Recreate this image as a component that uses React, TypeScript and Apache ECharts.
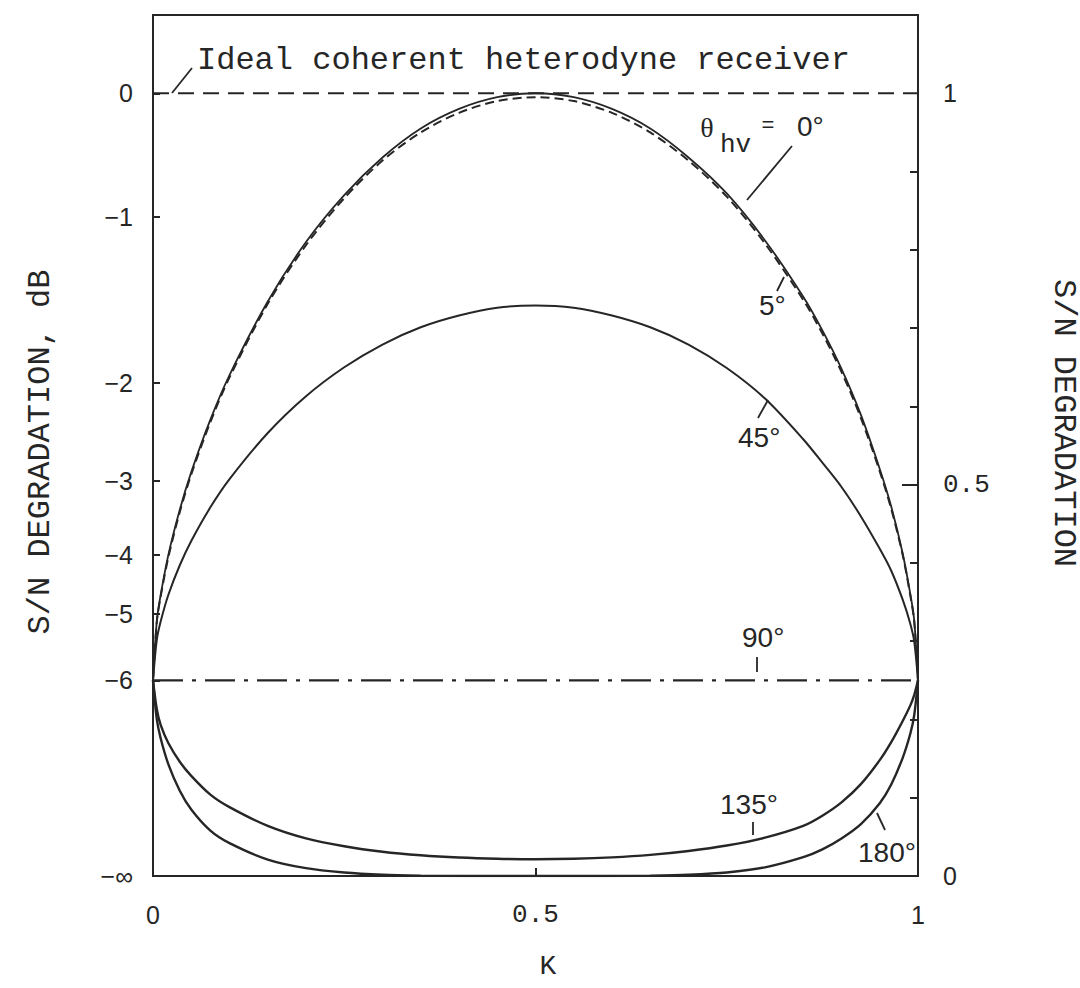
import React, { useEffect, useRef } from "react";
import * as echarts from "echarts";

// Coupling ratio K (x axis)
const kValues = [
  0, 0.005, 0.01, 0.02, 0.035, 0.05, 0.075, 0.1, 0.15, 0.2, 0.25, 0.3, 0.35, 0.4, 0.45, 0.5,
  0.55, 0.6, 0.65, 0.7, 0.75, 0.8, 0.85, 0.875, 0.9, 0.925, 0.95, 0.965, 0.98, 0.99, 0.995, 1,
];

// S/N degradation (linear ratio) for each polarization angle θhv
const theta0 = [
  0.25, 0.326, 0.359, 0.41, 0.468, 0.516, 0.583, 0.64, 0.734, 0.81, 0.87, 0.918, 0.955, 0.98, 0.995, 1.0,
  0.995, 0.98, 0.955, 0.918, 0.872, 0.812, 0.74, 0.697, 0.648, 0.59, 0.52, 0.472, 0.412, 0.36, 0.327, 0.25,
];
const theta5 = [
  0.25, 0.325, 0.357, 0.407, 0.465, 0.513, 0.58, 0.637, 0.731, 0.806, 0.866, 0.914, 0.95, 0.975, 0.99, 0.995,
  0.99, 0.975, 0.95, 0.914, 0.868, 0.808, 0.736, 0.693, 0.644, 0.586, 0.517, 0.469, 0.41, 0.358, 0.326, 0.25,
];
const theta45 = [
  0.25, 0.302, 0.325, 0.359, 0.397, 0.428, 0.471, 0.507, 0.566, 0.613, 0.65, 0.679, 0.701, 0.716, 0.726, 0.729,
  0.726, 0.716, 0.701, 0.679, 0.649, 0.61, 0.558, 0.528, 0.497, 0.46, 0.418, 0.39, 0.353, 0.322, 0.3, 0.25,
];
const theta90 = [0.25, 0.25];
const theta90K = [0, 1];
const theta135 = [
  0.25, 0.213, 0.193, 0.17, 0.146, 0.128, 0.104, 0.088, 0.064, 0.048, 0.038, 0.031, 0.0265, 0.0236, 0.022, 0.0214,
  0.022, 0.0238, 0.027, 0.032, 0.039, 0.049, 0.064, 0.077, 0.094, 0.117, 0.148, 0.171, 0.198, 0.218, 0.231, 0.25,
];
const theta180 = [
  0.25, 0.2, 0.176, 0.143, 0.109, 0.085, 0.058, 0.042, 0.021, 0.01, 0.0045, 0.0017, 0.0005, 0, 0, 0,
  0, 0, 0.0005, 0.0017, 0.0045, 0.011, 0.024, 0.034, 0.048, 0.066, 0.093, 0.117, 0.151, 0.182, 0.205, 0.25,
];
const idealRatio = [1, 1];
const idealK = [0, 1];

// Axis ticks and labels
const kTicks = [0, 0.5, 1];
const kTickLabels = ["0", "0.5", "1"];
const dbTickRatios = [1, 0.842, 0.63, 0.505, 0.41, 0.335, 0.25, 0];
const dbTickLabels = ["0", "\u22121", "\u22122", "\u22123", "\u22124", "\u22125", "\u22126", "\u2212\u221e"];
const ratioMinorTicks = [0.1, 0.2, 0.3, 0.4, 0.6, 0.7, 0.8, 0.9];
const ratioMajorTicks = [0.5];
const ratioLabelValues = [0, 0.5, 1];
const ratioLabels = ["0", "0.5", "1"];

const INK = "#262626";
const MONO = "'Liberation Mono', 'DejaVu Sans Mono', monospace";
const SANS = "'Liberation Sans', Arial, sans-serif";
const SERIF = "'Liberation Serif', serif";

const pairs = (xs: number[], ys: number[]) => xs.map((x, i) => [x, ys[i]]);
const lookup = (values: number[], labels: string[]) => (v: number) => {
  const i = values.findIndex((t) => Math.abs(t - v) < 1e-6);
  return i >= 0 ? labels[i] : "";
};

const curve = (name: string, ys: number[], width: number, type: any = "solid") => ({
  name,
  type: "line",
  data: pairs(kValues, ys),
  showSymbol: false,
  smooth: 0.3,
  lineStyle: { color: INK, width, type },
  z: 3,
});

const txt = (text: string, x: number, y: number, font: string, align = "center") => ({
  type: "text",
  x,
  y,
  style: { text, font, fill: INK, textAlign: align, textVerticalAlign: "middle" },
  z: 10,
});
const seg = (x1: number, y1: number, x2: number, y2: number) => ({
  type: "line",
  shape: { x1, y1, x2, y2 },
  style: { stroke: INK, lineWidth: 1.8 },
  z: 10,
});

export default function App() {
  const ref = useRef<HTMLDivElement>(null);

  useEffect(() => {
    if (!ref.current) return;
    const chart = echarts.init(ref.current, undefined, { renderer: "svg" });
    const labelFont = { color: INK, fontFamily: SANS, fontSize: 25 };

    chart.setOption({
      animation: false,
      backgroundColor: "#ffffff",
      grid: {
        left: 153,
        right: 162,
        top: 15,
        bottom: 112,
        show: true,
        borderColor: INK,
        borderWidth: 2,
      },
      xAxis: {
        type: "value",
        min: 0,
        max: 1,
        axisLine: { show: true, lineStyle: { color: INK, width: 2 } },
        axisTick: { show: true, inside: true, length: 8, customValues: [0.5], lineStyle: { color: INK, width: 2 } },
        axisLabel: {
          ...labelFont,
          margin: 26,
          customValues: kTicks,
          formatter: (v: number) => {
            const s = lookup(kTicks, kTickLabels)(v);
            return s === "0.5" ? "{m|0.5}" : s;
          },
          rich: { m: { fontFamily: MONO, fontSize: 26, color: INK } },
        },
        splitLine: { show: false },
      },
      yAxis: [
        {
          type: "value",
          position: "left",
          min: 0,
          max: 1.1,
          axisLine: { show: true, lineStyle: { color: INK, width: 2 } },
          axisTick: { show: true, inside: true, length: 7, customValues: dbTickRatios, lineStyle: { color: INK, width: 2 } },
          axisLabel: { ...labelFont, margin: 20, customValues: dbTickRatios, formatter: lookup(dbTickRatios, dbTickLabels) },
          splitLine: { show: false },
        },
        {
          type: "value",
          position: "right",
          min: 0,
          max: 1.1,
          axisLine: { show: true, lineStyle: { color: INK, width: 2 } },
          axisTick: { show: true, inside: true, length: 8, customValues: ratioMinorTicks, lineStyle: { color: INK, width: 2 } },
          axisLabel: {
            ...labelFont,
            margin: 25,
            customValues: ratioLabelValues,
            formatter: (v: number) => {
              const s = lookup(ratioLabelValues, ratioLabels)(v);
              return s === "0.5" ? "{m|0.5}" : s;
            },
            rich: { m: { fontFamily: MONO, fontSize: 26, color: INK } },
          },
          splitLine: { show: false },
        },
        {
          type: "value",
          position: "right",
          min: 0,
          max: 1.1,
          axisLine: { show: false },
          axisTick: { show: true, inside: true, length: 16, customValues: ratioMajorTicks, lineStyle: { color: INK, width: 2 } },
          axisLabel: { show: false },
          splitLine: { show: false },
        },
      ],
      series: [
        {
          name: "Ideal coherent heterodyne receiver",
          type: "line",
          data: pairs(idealK, idealRatio),
          showSymbol: false,
          lineStyle: { color: INK, width: 2, type: [16, 9] },
          z: 2,
        },
        curve("0°", theta0, 1.8),
        curve("5°", theta5, 2, [9, 5]),
        curve("45°", theta45, 2),
        {
          name: "90°",
          type: "line",
          data: pairs(theta90K, theta90),
          showSymbol: false,
          lineStyle: { color: INK, width: 2.2, type: [30, 9, 4, 9] },
          z: 2,
        },
        curve("135°", theta135, 2.4),
        curve("180°", theta180, 2.4),
      ],
      graphic: [
        txt("Ideal coherent heterodyne receiver", 197, 60, `32px ${MONO}`, "left"),
        seg(172, 93, 192, 68),

        txt("\u03b8", 707, 127, `28px ${SERIF}`),
        txt("hv", 720, 145, `26px ${MONO}`, "left"),
        txt("=", 768, 124, `22px ${SANS}`),
        txt("0\u00b0", 797, 126, `28px ${SANS}`, "left"),
        seg(792, 146, 747, 200),

        txt("5\u00b0", 759, 305, `28px ${SANS}`, "left"),
        seg(777, 291, 784, 277),

        txt("45\u00b0", 738, 437, `28px ${SANS}`, "left"),
        seg(758, 418, 768, 400),

        txt("90\u00b0", 742, 637, `28px ${SANS}`, "left"),
        seg(757, 657, 757, 672),

        txt("135\u00b0", 720, 804, `28px ${SANS}`, "left"),
        seg(753, 822, 753, 835),

        txt("180\u00b0", 858, 852, `28px ${SANS}`, "left"),
        seg(877, 813, 885, 830),

        txt("K", 548, 966, `28px ${MONO}`),
        {
          type: "text",
          x: 40,
          y: 452,
          rotation: Math.PI / 2,
          style: { text: "S/N DEGRADATION, dB", font: `32px ${MONO}`, fill: INK, textAlign: "center", textVerticalAlign: "middle" },
          z: 10,
        },
        {
          type: "text",
          x: 1063,
          y: 423,
          rotation: -Math.PI / 2,
          style: { text: "S/N DEGRADATION", font: `32px ${MONO}`, fill: INK, textAlign: "center", textVerticalAlign: "middle" },
          z: 10,
        },
      ],
    });

    return () => chart.dispose();
  }, []);

  return (
    <div
      ref={ref}
      style={{ position: "fixed", left: 0, top: 0, width: 1080, height: 988, background: "#ffffff" }}
    />
  );
}
